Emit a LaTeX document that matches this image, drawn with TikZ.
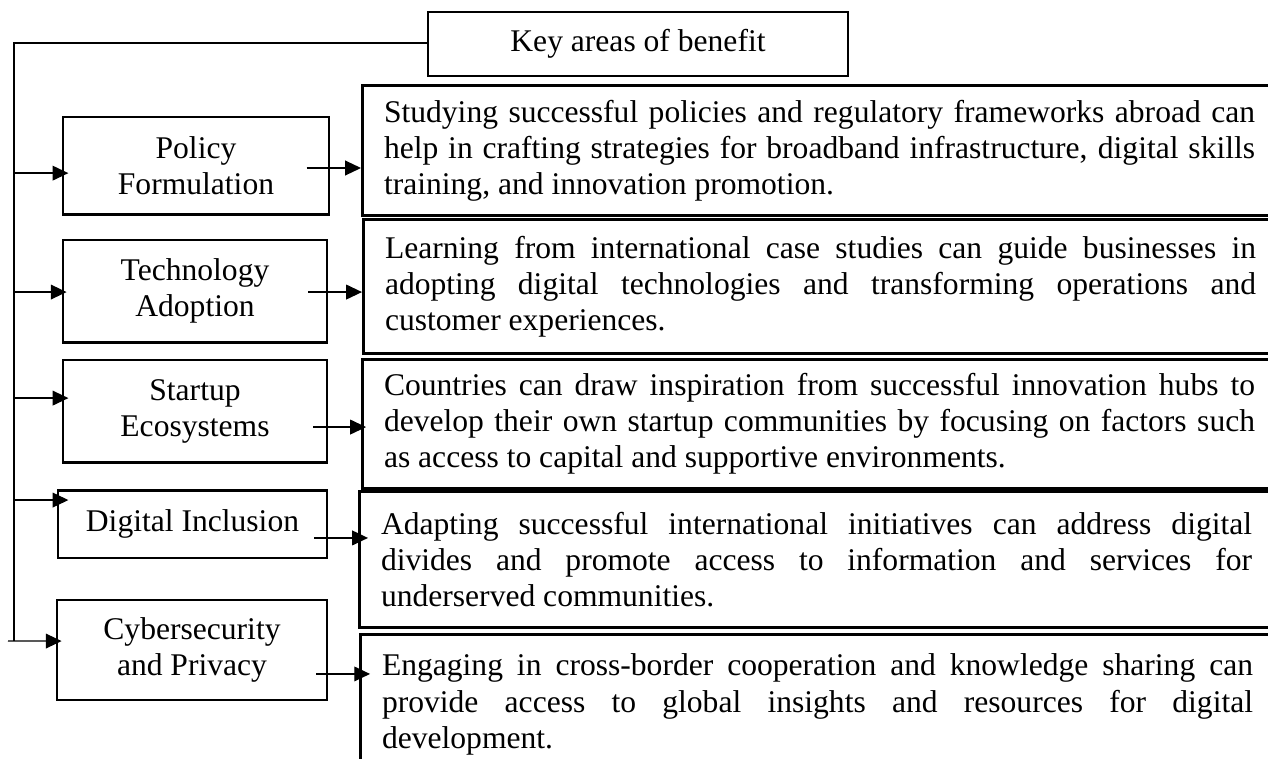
\documentclass[tikz,border=0pt]{standalone}
\usepackage{fontspec}
\setmainfont{Liberation Serif}
\usetikzlibrary{
    positioning,
    arrows.meta
}

\begin{document}
\begin{tikzpicture}[x=0.38pt, y=-0.38pt]

    % --- Estilos ---
    \tikzset{
        area/.style={draw, line width=1.1pt, align=center, inner sep=0pt,
                     font=\fontsize{12}{13.7}\selectfont},
        detail/.style={draw, line width=1.1pt, anchor=north west, text width=331pt,
                       align=justify, inner xsep=8.2pt, inner ysep=0pt,
                       font=\fontsize{12}{13.7}\selectfont},
        link/.style={line width=0.5pt},
        arr/.style={link, -{Triangle[length=6pt,width=5.6pt]}}
    }

    \clip (0,0) rectangle (1268,758);

    % --- Titulo ---
    \node[area, minimum width=159.6pt, minimum height=24.3pt] (key) at (638,44) {Key areas of benefit};

    % --- Areas ---
    \node[area, minimum width=101.1pt, minimum height=36.9pt] (pol) at (196,165.5) {Policy\\Formulation};
    \node[area, minimum width=100.3pt, minimum height=38.8pt] (tech) at (195,291) {Technology\\Adoption};
    \node[area, minimum width=100.3pt, minimum height=38.8pt] (start) at (195,411) {Startup\\Ecosystems};
    \node[area, minimum width=102.2pt, minimum height=25.8pt] (incl) at (192.5,524) {Digital Inclusion};
    \node[area, minimum width=102.6pt, minimum height=38pt] (cyber) at (192,650) {Cybersecurity\\and Privacy};

    % --- Descricoes ---
    \node[detail, minimum height=49.4pt] (d1) at (361,84)
        {Studying successful policies and regulatory frameworks abroad can\linebreak
         help in crafting strategies for broadband infrastructure, digital skills\linebreak
         training, and innovation promotion.};
    \node[detail, minimum height=50.9pt] (d2) at (362,218)
        {Learning from international case studies can guide businesses in\linebreak
         adopting digital technologies and transforming operations and\linebreak
         customer experiences.};
    \node[detail, minimum height=49pt] (d3) at (361,358)
        {Countries can draw inspiration from successful innovation hubs to\linebreak
         develop their own startup communities by focusing on factors such\linebreak
         as access to capital and supportive environments.};
    \node[detail, minimum height=51.7pt] (d4) at (358,490)
        {Adapting successful international initiatives can address digital\linebreak
         divides and promote access to information and services for\linebreak
         underserved communities.};
    \node[detail, minimum height=53.2pt] (d5) at (359,633)
        {Engaging in cross-border cooperation and knowledge sharing can\linebreak
         provide access to global insights and resources for digital\linebreak
         development.};

    % --- Linha lateral ---
    \coordinate (corner) at (14,43);
    \coordinate (foot) at (14,641);
    \coordinate (stub) at (8,641);
    \draw[link] (key.west |- corner) -- (corner) -- (foot);

    \foreach \n/\dy/\over in {pol/-2.9pt/2.6pt, tech/-0.4pt/1.9pt, start/4.9pt/2.6pt, incl/9.1pt/4.5pt} {
        \coordinate (a-\n) at ([yshift=\dy]\n.west);
        \draw[arr, shorten >=-\over] (corner |- a-\n) -- (a-\n);
    }
    \coordinate (a-cyber) at ([yshift=3.4pt]cyber.west);
    \draw[arr, shorten >=-2.3pt] (stub) -- (a-cyber);

    % --- Setas para as descricoes ---
    \foreach \n/\dx/\dy in {pol/-9.1pt/-0.95pt, tech/-7.6pt/-0.4pt, start/-5.7pt/-6.1pt,
                            incl/-5.3pt/-5.3pt, cyber/-4.6pt/-9.1pt} {
        \coordinate (s-\n) at ([shift={(\dx,\dy)}]\n.east);
    }
    \draw[arr] (s-pol) -- (s-pol -| d1.west);
    \draw[arr] (s-tech) -- (s-tech -| d2.west);
    \draw[arr, shorten >=-1.9pt] (s-start) -- (s-start -| d3.west);
    \draw[arr, shorten >=-3.8pt] (s-incl) -- (s-incl -| d4.west);
    \draw[arr, shorten >=-4.2pt] (s-cyber) -- (s-cyber -| d5.west);

\end{tikzpicture}
\end{document}
